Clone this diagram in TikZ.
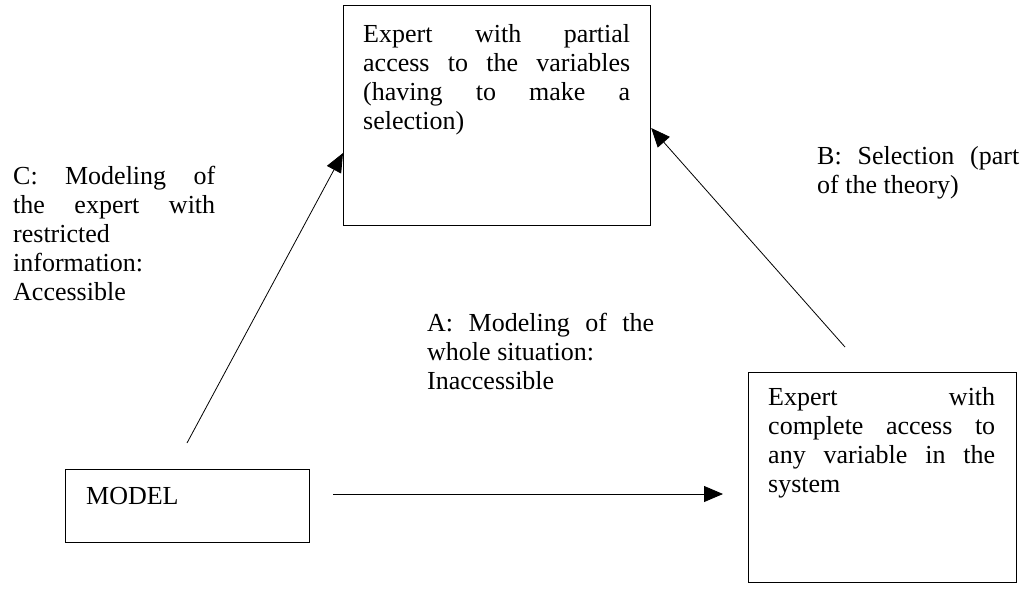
\documentclass[tikz,border=0pt]{standalone}
\usepackage{fontspec}
\setmainfont{Liberation Serif}
\usetikzlibrary{arrows.meta,positioning}
\tolerance=10000
\hbadness=10000
\hyphenpenalty=10000

\begin{document}
\begin{tikzpicture}[x=1pt, y=-1pt,
  box/.style={draw, line width=1.2pt, anchor=north west, inner sep=0pt},
  note/.style={anchor=north west, inner sep=0pt, align=justify,
    font=\fontsize{26}{29}\selectfont},
  link/.style={-{Triangle[length=19pt,width=16pt]}, line width=0.8pt}]
  \useasboundingbox (0,0) rectangle (1030,592);

  % boxes
  \node[box, minimum width=307pt, minimum height=220pt] (partial) at (343,5) {};
  \node[box, minimum width=268pt, minimum height=210pt] (complete) at (748,372) {};
  \node[box, minimum width=244pt, minimum height=73pt] (model) at (65,469) {};

  % texts in the boxes
  \node[note, text width=267pt, below right=19pt and 20pt of partial.north west] (partialtext)
    {Expert with partial\linebreak access to the variables\linebreak (having to make a\linebreak selection)};
  \node[note, text width=227pt, below right=15pt and 20pt of complete.north west] (completetext)
    {Expert with\linebreak complete access to\linebreak any variable in the\linebreak system};
  \node[note, below right=18pt and 21pt of model.north west] (modeltext) {MODEL};

  % labels of the arrows
  \node[note, text width=202pt] (clabel) at (13,166)
    {C: Modeling of\linebreak the expert with\linebreak restricted\\ information:\\ Accessible};
  \node[note, text width=227pt] (alabel) at (427,313)
    {A: Modeling of the\linebreak whole situation:\\ Inaccessible};
  \node[note, text width=202pt] (blabel) at (817,146)
    {B: Selection (part\linebreak of the theory)};

  % arrows
  \coordinate (cfoot) at (187,443);
  \coordinate (chead) at ([yshift=-148pt]partial.north west);
  \coordinate (bfoot) at (845,347);
  \coordinate (bhead) at ([yshift=-123pt]partial.north east);
  \coordinate (afoot) at (333,494);
  \coordinate (ahead) at ([xshift=-25pt, yshift=-122pt]complete.north west);
  \draw[link] (cfoot) -- (chead); % up to the partial expert
  \draw[link] (bfoot) -- (bhead); % selection
  \draw[link] (afoot) -- (ahead); % whole situation
\end{tikzpicture}
\end{document}
